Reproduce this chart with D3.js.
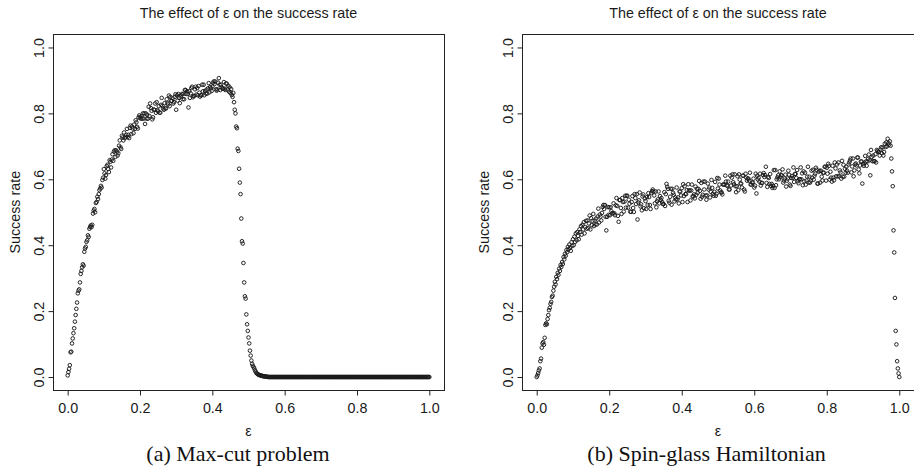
<!DOCTYPE html>
<html>
<head>
<meta charset="utf-8">
<script src="https://cdn.jsdelivr.net/npm/d3@7"></script>
<style>
  html, body { margin: 0; padding: 0; background: #fff; }
  svg { display: block; }
  .lbl { font-family: "Liberation Sans", Arial, Helvetica, sans-serif; fill: #1a1a1a; }
  .cap { font-family: "Liberation Serif", "Times New Roman", serif; fill: #111; }
</style>
</head>
<body>
<svg id="chart" width="914" height="471"></svg>
<script>
// ---------------- data ----------------
const panelTitles = ["The effect of ε on the success rate", "The effect of ε on the success rate"];
const panelCaptions = ["(a) Max-cut problem", "(b) Spin-glass Hamiltonian"];
const xLabel = "ε";
const yLabel = "Success rate";
const xTicks = [0, 0.2, 0.4, 0.6, 0.8, 1.0];
const yTicks = [0, 0.2, 0.4, 0.6, 0.8, 1.0];
const epsStep = 0.002; // ε grid: 0, 0.002, ..., 1.0

// Success rate for the max-cut problem, one value per ε step
const maxcutSuccess = [
0.005,0.015,0.025,0.036,0.075,0.077,0.102,0.117,0.133,0.148,
0.168,0.188,0.207,0.226,0.254,0.262,0.266,0.287,0.313,0.322,
0.333,0.342,0.338,0.38,0.39,0.395,0.41,0.415,0.43,0.425,
0.45,0.455,0.46,0.455,0.462,0.496,0.505,0.51,0.5,0.528,
0.531,0.547,0.54,0.555,0.567,0.572,0.58,0.575,0.598,0.605,
0.631,0.618,0.602,0.613,0.64,0.644,0.631,0.622,0.658,0.653,
0.636,0.66,0.676,0.656,0.684,0.688,0.668,0.688,0.684,0.672,
0.679,0.702,0.718,0.697,0.692,0.732,0.727,0.718,0.742,0.725,
0.728,0.735,0.753,0.728,0.735,0.725,0.756,0.763,0.737,0.76,
0.754,0.74,0.766,0.753,0.779,0.773,0.759,0.754,0.788,0.794,
0.788,0.784,0.792,0.784,0.8,0.784,0.8,0.768,0.8,0.784,
0.796,0.784,0.82,0.792,0.83,0.816,0.808,0.782,0.788,0.812,
0.81,0.83,0.802,0.834,0.81,0.806,0.822,0.802,0.802,0.826,
0.847,0.823,0.815,0.811,0.831,0.815,0.815,0.843,0.831,0.827,
0.854,0.822,0.85,0.838,0.838,0.846,0.83,0.834,0.85,0.858,
0.811,0.855,0.839,0.859,0.847,0.831,0.851,0.855,0.859,0.843,
0.859,0.843,0.871,0.871,0.859,0.867,0.859,0.818,0.867,0.847,
0.861,0.877,0.881,0.849,0.853,0.853,0.873,0.881,0.857,0.877,
0.855,0.883,0.863,0.851,0.855,0.855,0.887,0.867,0.887,0.855,
0.868,0.86,0.872,0.86,0.876,0.892,0.864,0.88,0.876,0.868,
0.881,0.893,0.897,0.889,0.897,0.873,0.869,0.873,0.893,0.907,
0.887,0.871,0.887,0.879,0.875,0.875,0.895,0.875,0.871,0.891,
0.89,0.872,0.884,0.866,0.879,0.862,0.874,0.856,0.85,0.862,
0.834,0.811,0.80,0.76,0.755,0.693,0.686,0.632,0.59,0.555,
0.481,0.412,0.405,0.346,0.287,0.245,0.238,0.19,0.16,0.14,
0.12,0.102,0.08,0.065,0.05,0.04,0.034,0.03,0.026,0.02,
0.016,0.012,0.01,0.008,0.007,0.006,0.005,0.005,0.004,0.003,
0.003,0.002,0.002,0.002,0.001,0.001,0.001,0,0,0,
0,0,0,0,0,0,0,0,0,0,
0,0,0,0,0,0,0,0,0,0,
0,0,0,0,0,0,0,0,0,0,
0,0,0,0,0,0,0,0,0,0,
0,0,0,0,0,0,0,0,0,0,
0,0,0,0,0,0,0,0,0,0,
0,0,0,0,0,0,0,0,0,0,
0,0,0,0,0,0,0,0,0,0,
0,0,0,0,0,0,0,0,0,0,
0,0,0,0,0,0,0,0,0,0,
0,0,0,0,0,0,0,0,0,0,
0,0,0,0,0,0,0,0,0,0,
0,0,0,0,0,0,0,0,0,0,
0,0,0,0,0,0,0,0,0,0,
0,0,0,0,0,0,0,0,0,0,
0,0,0,0,0,0,0,0,0,0,
0,0,0,0,0,0,0,0,0,0,
0,0,0,0,0,0,0,0,0,0,
0,0,0,0,0,0,0,0,0,0,
0,0,0,0,0,0,0,0,0,0,
0,0,0,0,0,0,0,0,0,0,
0,0,0,0,0,0,0,0,0,0,
0
];

// Success rate for the spin-glass Hamiltonian, one value per ε step
const spinGlassSuccess = [
0.000,0.005,0.012,0.020,0.026,0.048,0.056,0.089,0.102,0.106,
0.098,0.119,0.158,0.163,0.160,0.176,0.188,0.203,0.210,0.222,
0.228,0.243,0.247,0.262,0.274,0.289,0.281,0.304,0.297,0.316,
0.310,0.329,0.322,0.340,0.334,0.349,0.343,0.364,0.357,0.374,
0.368,0.385,0.379,0.395,0.388,0.402,0.392,0.383,0.409,0.398,
0.418,0.4,0.426,0.41,0.436,0.415,0.44,0.428,0.418,0.448,
0.44,0.458,0.432,0.462,0.448,0.47,0.436,0.455,0.474,0.45,
0.475,0.452,0.466,0.49,0.448,0.482,0.461,0.474,0.495,0.458,
0.475,0.463,0.481,0.463,0.487,0.511,0.469,0.493,0.487,0.475,
0.498,0.516,0.522,0.51,0.522,0.486,0.445,0.486,0.516,0.492,
0.515,0.491,0.515,0.503,0.497,0.497,0.527,0.497,0.491,0.521,
0.543,0.519,0.489,0.471,0.537,0.537,0.513,0.495,0.543,0.531,
0.502,0.532,0.55,0.514,0.55,0.55,0.514,0.538,0.526,0.502,
0.501,0.531,0.549,0.513,0.501,0.555,0.543,0.525,0.555,0.478,
0.53,0.536,0.56,0.518,0.524,0.506,0.548,0.554,0.512,0.542,
0.534,0.51,0.546,0.522,0.558,0.546,0.522,0.51,0.558,0.564,
0.569,0.563,0.551,0.527,0.563,0.515,0.533,0.539,0.563,0.527,
0.549,0.537,0.543,0.531,0.525,0.525,0.561,0.519,0.555,0.586,
0.577,0.571,0.535,0.529,0.547,0.571,0.523,0.571,0.559,0.553,
0.533,0.545,0.539,0.575,0.539,0.545,0.527,0.563,0.563,0.551,
0.573,0.531,0.585,0.549,0.579,0.555,0.555,0.567,0.531,0.585,
0.566,0.566,0.536,0.566,0.584,0.548,0.548,0.554,0.542,0.578,
0.553,0.571,0.559,0.571,0.595,0.565,0.541,0.589,0.547,0.553,
0.593,0.569,0.593,0.551,0.538,0.551,0.587,0.569,0.575,0.545,
0.562,0.598,0.574,0.556,0.55,0.562,0.592,0.55,0.556,0.604,
0.572,0.602,0.584,0.566,0.56,0.56,0.554,0.584,0.584,0.584,
0.611,0.593,0.581,0.581,0.593,0.569,0.569,0.611,0.581,0.605,
0.615,0.591,0.585,0.615,0.579,0.561,0.579,0.609,0.567,0.615,
0.599,0.587,0.587,0.575,0.611,0.611,0.569,0.563,0.617,0.605,
0.596,0.602,0.602,0.596,0.62,0.584,0.584,0.59,0.59,0.602,
0.575,0.581,0.617,0.557,0.611,0.599,0.605,0.593,0.617,0.581,
0.589,0.589,0.613,0.619,0.607,0.613,0.638,0.589,0.577,0.607,
0.604,0.586,0.616,0.58,0.586,0.574,0.58,0.628,0.574,0.628,
0.582,0.6,0.606,0.612,0.6,0.624,0.606,0.612,0.612,0.63,
0.59,0.596,0.602,0.614,0.578,0.596,0.602,0.626,0.614,0.584,
0.58,0.604,0.61,0.604,0.636,0.592,0.616,0.616,0.604,0.628,
0.594,0.588,0.6,0.6,0.636,0.6,0.618,0.582,0.624,0.594,
0.62,0.584,0.596,0.608,0.638,0.59,0.608,0.59,0.596,0.626,
0.605,0.629,0.599,0.611,0.617,0.635,0.629,0.587,0.587,0.623,
0.626,0.59,0.626,0.608,0.596,0.62,0.62,0.638,0.638,0.596,
0.635,0.617,0.647,0.641,0.599,0.623,0.605,0.593,0.641,0.605,
0.597,0.651,0.633,0.609,0.645,0.609,0.651,0.609,0.627,0.621,
0.602,0.656,0.608,0.644,0.608,0.632,0.62,0.638,0.626,0.62,
0.645,0.651,0.657,0.663,0.621,0.639,0.663,0.609,0.627,0.645,
0.648,0.642,0.666,0.666,0.63,0.618,0.642,0.654,0.654,0.587,
0.646,0.641,0.65,0.671,0.654,0.641,0.654,0.662,0.675,0.658,
0.612,0.689,0.668,0.655,0.672,0.655,0.655,0.676,0.651,0.689,
0.686,0.683,0.683,0.672,0.69,0.697,0.679,0.697,0.672,0.683,
0.708,0.698,0.712,0.7,0.723,0.71,0.705,0.715,0.702,
0.663,0.624,0.579,0.445,0.378,0.24,0.14,0.099,0.048,0.026,0.011,0.0
];

// ---------------- drawing ----------------
const svg = d3.select("#chart");
const panels = [
  { values: maxcutSuccess, left: 53.2, right: 443.8, capX: 238 },
  { values: spinGlassSuccess, left: 522.2, right: 913.8, capX: 706.5 }
];
const plotTop = 34.3, plotBottom = 390.2;
const fmt = d3.format(".1f");

panels.forEach((p, k) => {
  const x = d3.scaleLinear().domain([-0.04, 1.04]).range([p.left, p.right]);
  const y = d3.scaleLinear().domain([-0.04, 1.04]).range([plotBottom, plotTop]);
  const g = svg.append("g");
  const cx = (p.left + p.right) / 2;

  // points
  g.append("g").selectAll("circle")
    .data(p.values.map((v, i) => ({ e: i * epsStep, v })))
    .join("circle")
    .attr("cx", d => x(d.e))
    .attr("cy", d => y(d.v))
    .attr("r", 1.8)
    .attr("fill", "none")
    .attr("stroke", "#1a1a1a")
    .attr("stroke-width", 0.95);

  // box
  g.append("rect")
    .attr("x", Math.round(p.left) + 0.5)
    .attr("y", Math.round(plotTop) + 0.5)
    .attr("width", Math.round(p.right) - Math.round(p.left))
    .attr("height", Math.round(plotBottom) - Math.round(plotTop))
    .attr("fill", "none")
    .attr("stroke", "#222")
    .attr("stroke-width", 1);

  // x axis
  const ax = g.append("g")
    .attr("transform", `translate(0,${Math.round(plotBottom) + 0.5})`)
    .call(d3.axisBottom(x).tickValues(xTicks).tickFormat(fmt).tickSize(5).tickSizeOuter(0));
  ax.select(".domain").remove();
  ax.selectAll(".tick line").attr("stroke", "#222");
  ax.selectAll(".tick text")
    .attr("class", "lbl")
    .attr("y", 22.5).attr("dy", 0)
    .style("font-size", "14.3px");

  // y axis
  const ay = g.append("g")
    .attr("transform", `translate(${Math.round(p.left) + 0.5},0)`)
    .call(d3.axisLeft(y).tickValues(yTicks).tickFormat(fmt).tickSize(5).tickSizeOuter(0));
  ay.select(".domain").remove();
  ay.selectAll(".tick line").attr("stroke", "#222");
  ay.selectAll(".tick text")
    .attr("class", "lbl")
    .attr("transform", "rotate(-90)")
    .attr("x", 0).attr("y", -10).attr("dy", 0)
    .attr("text-anchor", "middle")
    .style("font-size", "14.3px");

  // title
  g.append("text").attr("class", "lbl")
    .attr("x", cx).attr("y", 17.5)
    .attr("text-anchor", "middle")
    .style("font-size", "14.3px")
    .text(panelTitles[k]);

  // x label
  g.append("text").attr("class", "lbl")
    .attr("x", cx).attr("y", 436)
    .attr("text-anchor", "middle")
    .style("font-size", "14.3px")
    .text(xLabel);

  // y label
  g.append("text").attr("class", "lbl")
    .attr("transform", `translate(${p.left - 33},${(plotTop + plotBottom) / 2}) rotate(-90)`)
    .attr("text-anchor", "middle")
    .style("font-size", "14.3px")
    .text(yLabel);

  // caption
  g.append("text").attr("class", "cap")
    .attr("x", p.capX).attr("y", 461)
    .attr("text-anchor", "middle")
    .style("font-size", "22px")
    .text(panelCaptions[k]);
});
</script>
</body>
</html>
